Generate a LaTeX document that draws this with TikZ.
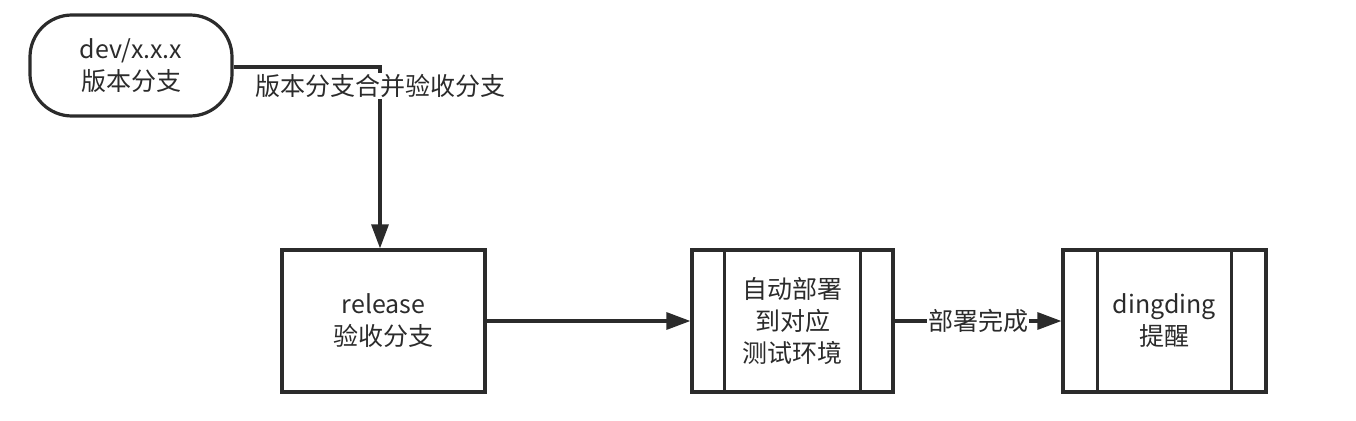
\documentclass[tikz,border=0pt]{standalone}
\usepackage{fontspec}
\setmainfont{Noto Sans CJK SC}
\usetikzlibrary{arrows.meta}
\definecolor{ink}{HTML}{2B2B2B}
\begin{document}
\begin{tikzpicture}[x=1pt,y=-1pt,
  every node/.style={font=\fontsize{25}{32}\selectfont, text=ink, align=center},
  box/.style={draw=ink, line width=3.2pt, minimum width=203pt, minimum height=142pt, inner sep=0pt},
  term/.style={box, rounded corners=42pt, minimum width=202pt, minimum height=101pt},
  conn/.style={draw=ink, line width=3.2pt, -{Triangle[length=24pt,width=17pt]}},
  lbl/.style={fill=white, inner sep=1pt}]
\useasboundingbox (0,0) rectangle (1356,420);
\node[term] (dev) at (131,65.5) {dev/x.x.x\\版本分支};
\node[box] (rel) at (383.5,321) {release\\验收分支};
\node[box, minimum width=201pt] (dep) at (792.5,321) {自动部署\\到对应\\测试环境};
\node[box] (ding) at (1164.5,321) {dingding\\提醒};
\foreach \n/\d in {dep/34, ding/36} {
  \draw[ink, line width=3.2pt] ([xshift=\d pt]\n.north west) -- ([xshift=\d pt]\n.south west);
  \draw[ink, line width=3.2pt] ([xshift=-\d pt]\n.north east) -- ([xshift=-\d pt]\n.south east);
}
\coordinate (bend) at (380,67);
\draw[conn] (dev.east |- bend) -- (bend) -- (bend |- rel.north);
\node[lbl] (l1) at (380,86) {版本分支合并验收分支};
\draw[conn] (rel.east) -- (dep.west);
\draw[conn] (dep.east) -- (ding.west) node[lbl, midway] (l2) {部署完成};
\end{tikzpicture}
\end{document}
